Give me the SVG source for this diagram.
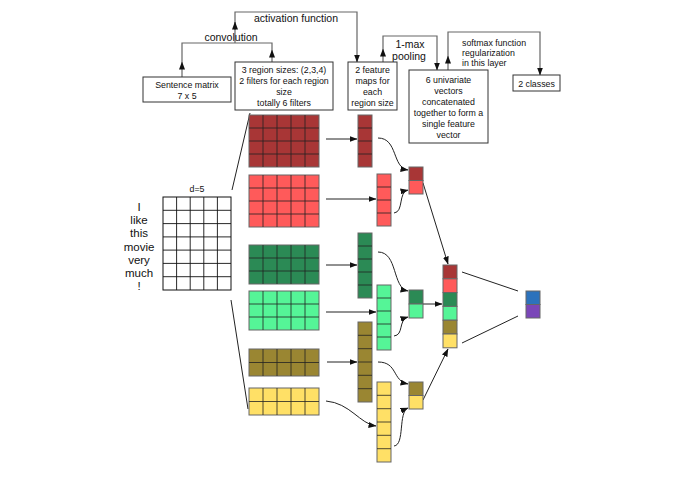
<svg xmlns="http://www.w3.org/2000/svg" width="689" height="484" viewBox="0 0 689 484">
<style>
text{font-family:"Liberation Sans",Arial,sans-serif;fill:#111;text-anchor:middle}
.s{font-size:8.8px}
.m{font-size:10.5px}
.w{font-size:11.5px}
.box{fill:#fff;stroke:#333;stroke-width:1}
.con{fill:none;stroke:#666;stroke-width:1.2}
.arr{fill:none;stroke:#222;stroke-width:1}
.gl{fill:none;stroke:#111;stroke-width:0.9}
.cl{fill:none;stroke:#222;stroke-width:0.8}
.dr{fill:#a83636}.lr{fill:#ff5a5a}.dg{fill:#2b8a55}.lg{fill:#55f597}.ol{fill:#9a8632}.ye{fill:#ffe066}.bl{fill:#2c72bc}.pu{fill:#7a46b8}
.ob{stroke:#666;stroke-width:1}
</style>
<defs>
<marker id="ah" markerWidth="8" markerHeight="6" refX="7.5" refY="3" orient="auto" markerUnits="userSpaceOnUse">
<path d="M0,0 L8,3 L0,6 z" fill="#111"/>
</marker>
</defs>

<g id="connectors">
<path class="con" d="M182,62 L182,43 L272,43 L272,50"/>
<path class="con" d="M182,77 L182,62" marker-end="url(#ah)"/>
<path class="con" d="M272,62 L272,50" marker-end="url(#ah)"/>
<path class="con" d="M235,43 L235,12 L357,12 L357,62" marker-end="url(#ah)"/>
<path class="con" d="M235,30 L235,22" marker-end="url(#ah)"/>
<path class="con" d="M383,62 L383,49" marker-end="url(#ah)"/>
<path class="con" d="M383,49 L383,36 L437,36 L437,70" marker-end="url(#ah)"/>
<path class="con" d="M448,70 L448,56" marker-end="url(#ah)"/>
<path class="con" d="M448,56 L448,32 L540,32 L540,75" marker-end="url(#ah)"/>

<path class="arr" d="M232,190 L250,113"/>
<path class="arr" d="M231,300 L248,409"/>

<path class="arr" d="M326,139 L357,139" marker-end="url(#ah)"/>
<path class="arr" d="M326,199 L376,199" marker-end="url(#ah)"/>
<path class="arr" d="M326,265 L357,265" marker-end="url(#ah)"/>
<path class="arr" d="M326,312 L376,312" marker-end="url(#ah)"/>
<path class="arr" d="M327,362 L357,362" marker-end="url(#ah)"/>
<path class="arr" d="M326,401 C350,403 360,424 376,426" marker-end="url(#ah)"/>

<path class="arr" d="M378,138 C398,138 392,168 408,170" marker-end="url(#ah)"/>
<path class="arr" d="M394,213 C404,212 398,192 408,190" marker-end="url(#ah)"/>
<path class="arr" d="M378,252 C398,252 392,288 408,291" marker-end="url(#ah)"/>
<path class="arr" d="M394,336 C404,335 398,320 408,317" marker-end="url(#ah)"/>
<path class="arr" d="M378,362 C398,362 392,381 408,384" marker-end="url(#ah)"/>
<path class="arr" d="M394,446 C405,445 398,412 408,408" marker-end="url(#ah)"/>

<path class="arr" d="M423,183 L448,264" marker-end="url(#ah)"/>
<path class="arr" d="M423,304 L442,304" marker-end="url(#ah)"/>
<path class="arr" d="M423,400 L448,349" marker-end="url(#ah)"/>

<path class="arr" d="M462,272 L518,291" stroke="#555"/>
<path class="arr" d="M462,343 L518,316" stroke="#555"/>
</g>

<g id="labels">
<text class="m" x="231" y="41">convolution</text>
<text class="m" x="296" y="22">activation function</text>
<text class="m" x="410" y="48">1-max</text>
<text class="m" x="409" y="59.5">pooling</text>
<text class="s" x="462" y="46" style="text-anchor:start">softmax function</text>
<text class="s" x="462" y="56" style="text-anchor:start">regularization</text>
<text class="s" x="462" y="66" style="text-anchor:start">in this layer</text>
<text class="s" x="197" y="192">d=5</text>
</g>

<g id="node-sentence-matrix">
<rect class="box" x="143" y="77" width="88" height="25"/>
<text class="s" x="187" y="88">Sentence matrix</text>
<text class="s" x="187" y="99">7 x 5</text>
</g>

<g id="node-region-sizes">
<rect class="box" x="235" y="62" width="98" height="48"/>
<text class="s" x="284" y="73">3 region sizes: (2,3,4)</text>
<text class="s" x="284" y="84">2 filters for each region</text>
<text class="s" x="284" y="95">size</text>
<text class="s" x="284" y="106">totally 6 filters</text>
</g>

<g id="node-feature-maps">
<rect class="box" x="348" y="62" width="49" height="48"/>
<text class="s" x="372.5" y="73">2 feature</text>
<text class="s" x="372.5" y="84">maps for</text>
<text class="s" x="372.5" y="95">each</text>
<text class="s" x="372.5" y="106">region size</text>
</g>

<g id="node-univariate">
<rect class="box" x="409" y="70" width="79" height="73"/>
<text class="s" x="448.5" y="83">6 univariate</text>
<text class="s" x="448.5" y="94">vectors</text>
<text class="s" x="448.5" y="105">concatenated</text>
<text class="s" x="448.5" y="116">together to form a</text>
<text class="s" x="448.5" y="127">single feature</text>
<text class="s" x="448.5" y="138">vector</text>
</g>

<g id="node-classes">
<rect class="box" x="513" y="75" width="47" height="16"/>
<text class="s" x="536.5" y="86.5">2 classes</text>
</g>

<g id="node-sentence">
<text class="w" x="139" y="211">I</text>
<text class="w" x="139" y="224">like</text>
<text class="w" x="139" y="237">this</text>
<text class="w" x="139" y="251">movie</text>
<text class="w" x="139" y="264">very</text>
<text class="w" x="139" y="277">much</text>
<text class="w" x="139" y="290">!</text>
<rect x="163" y="197" width="68" height="93" fill="#fff" stroke="#111" stroke-width="1"/>
<path class="gl" d="M176.6,197V290M190.2,197V290M203.8,197V290M217.4,197V290M163,210.3H231M163,223.6H231M163,236.9H231M163,250.1H231M163,263.4H231M163,276.7H231"/>
</g>

<g id="node-filters">
<rect class="dr ob" x="249" y="115" width="70" height="52"/>
<path class="cl" d="M263,115V167M277,115V167M291,115V167M305,115V167M249,128H319M249,141H319M249,154H319"/>
<rect class="lr ob" x="249" y="175" width="70" height="52"/>
<path class="cl" d="M263,175V227M277,175V227M291,175V227M305,175V227M249,188H319M249,201H319M249,214H319"/>
<rect class="dg ob" x="249" y="245" width="70" height="39"/>
<path class="cl" d="M263,245V284M277,245V284M291,245V284M305,245V284M249,258H319M249,271H319"/>
<rect class="lg ob" x="249" y="291" width="70" height="39"/>
<path class="cl" d="M263,291V330M277,291V330M291,291V330M305,291V330M249,304H319M249,317H319"/>
<rect class="ol ob" x="249" y="349" width="70" height="27"/>
<path class="cl" d="M263,349V376M277,349V376M291,349V376M305,349V376M249,362.5H319"/>
<rect class="ye ob" x="249" y="388" width="70" height="27"/>
<path class="cl" d="M263,388V415M277,388V415M291,388V415M305,388V415M249,401.5H319"/>
</g>

<g id="node-feature-columns">
<rect class="dr ob" x="358" y="115" width="14" height="52"/>
<path class="cl" d="M358,128H372M358,141H372M358,154H372"/>
<rect class="lr ob" x="377" y="174" width="14" height="52"/>
<path class="cl" d="M377,187H391M377,200H391M377,213H391"/>
<rect class="dg ob" x="358" y="233" width="14" height="65"/>
<path class="cl" d="M358,246H372M358,259H372M358,272H372M358,285H372"/>
<rect class="lg ob" x="377" y="285" width="14" height="65"/>
<path class="cl" d="M377,298H391M377,311H391M377,324H391M377,337H391"/>
<rect class="ol ob" x="358" y="322" width="14" height="80"/>
<path class="cl" d="M358,335.3H372M358,348.7H372M358,362H372M358,375.3H372M358,388.7H372"/>
<rect class="ye ob" x="377" y="382" width="14" height="80"/>
<path class="cl" d="M377,395.3H391M377,408.7H391M377,422H391M377,435.3H391M377,448.7H391"/>
</g>

<g id="node-pooled">
<rect class="dr ob" x="409" y="167" width="14" height="13.5"/>
<rect class="lr ob" x="409" y="180.5" width="14" height="13.5"/>
<rect class="dg ob" x="409" y="290" width="14" height="14"/>
<rect class="lg ob" x="409" y="304" width="14" height="14"/>
<rect class="ol ob" x="409" y="382" width="14" height="13.5"/>
<rect class="ye ob" x="409" y="395.5" width="14" height="13.5"/>
</g>

<g id="node-concatenated">
<rect class="dr ob" x="443" y="265" width="14" height="13.8"/>
<rect class="lr ob" x="443" y="278.8" width="14" height="13.8"/>
<rect class="dg ob" x="443" y="292.6" width="14" height="13.8"/>
<rect class="lg ob" x="443" y="306.4" width="14" height="13.8"/>
<rect class="ol ob" x="443" y="320.2" width="14" height="13.8"/>
<rect class="ye ob" x="443" y="334" width="14" height="13.8"/>
</g>

<g id="node-output">
<rect class="bl ob" x="526" y="291" width="14" height="13.5"/>
<rect class="pu ob" x="526" y="304.5" width="14" height="13.5"/>
</g>
</svg>
